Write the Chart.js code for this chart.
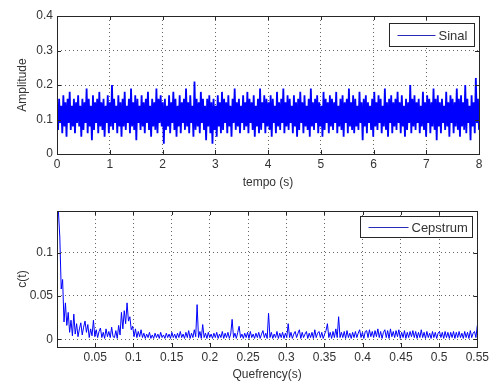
<!DOCTYPE html>
<html>
<head>
<meta charset="utf-8">
<script src="https://cdn.jsdelivr.net/npm/chart.js@4"></script>
<style>
  html, body { margin: 0; padding: 0; background: #fff; }
  #wrap { position: relative; width: 492px; height: 383px; }
  #wrap canvas { position: absolute; left: 0; }
</style>
</head>
<body>
<div id="wrap">
  <canvas id="sinalChart" width="492" height="191" style="top:0"></canvas>
  <canvas id="cepstrumChart" width="492" height="192" style="top:191px"></canvas>
</div>
<script>
// sinal no tempo (lido a olho da figura), 0 a 8 s
const sinal = [
  0.15,0.07,0.16,0.09,0.14,0.06,0.17,0.08,0.15,0.05,0.16,0.09,0.18,0.07,0.14,0.08,0.16,0.06,0.15,0.09,
  0.17,0.08,0.14,0.05,0.16,0.07,0.15,0.09,0.19,0.06,0.16,0.08,0.14,0.04,0.17,0.07,0.15,0.09,0.16,0.06,
  0.18,0.08,0.15,0.07,0.16,0.05,0.14,0.09,0.17,0.06,0.15,0.08,0.20,0.07,0.16,0.09,0.14,0.06,0.17,0.08,
  0.15,0.05,0.16,0.08,0.18,0.07,0.14,0.09,0.16,0.06,0.19,0.08,0.15,0.07,0.17,0.04,0.16,0.09,0.14,0.07,
  0.17,0.08,0.15,0.06,0.16,0.09,0.18,0.07,0.14,0.05,0.16,0.08,0.15,0.07,0.19,0.06,0.16,0.09,0.17,0.08,
  0.15,0.03,0.16,0.07,0.14,0.08,0.17,0.06,0.15,0.09,0.18,0.07,0.16,0.05,0.14,0.08,0.17,0.06,0.15,0.09,
  0.16,0.07,0.19,0.08,0.15,0.06,0.17,0.09,0.14,0.05,0.21,0.07,0.16,0.08,0.15,0.06,0.18,0.09,0.16,0.07,
  0.14,0.04,0.16,0.08,0.17,0.06,0.15,0.03,0.16,0.07,0.14,0.05,0.17,0.08,0.15,0.06,0.18,0.07,0.16,0.09,
  0.15,0.06,0.17,0.08,0.14,0.05,0.16,0.09,0.19,0.07,0.15,0.08,0.16,0.06,0.14,0.09,0.17,0.07,0.15,0.08,
  0.18,0.06,0.16,0.09,0.15,0.07,0.17,0.05,0.14,0.08,0.16,0.06,0.19,0.07,0.15,0.09,0.17,0.06,0.16,0.08,
  0.15,0.07,0.17,0.05,0.16,0.09,0.14,0.06,0.18,0.08,0.15,0.07,0.16,0.09,0.19,0.06,0.15,0.08,0.17,0.07,
  0.16,0.09,0.14,0.06,0.17,0.08,0.15,0.05,0.16,0.07,0.18,0.09,0.15,0.06,0.17,0.08,0.14,0.07,0.16,0.05,
  0.19,0.08,0.15,0.07,0.16,0.09,0.17,0.06,0.15,0.08,0.14,0.05,0.18,0.07,0.16,0.09,0.15,0.06,0.17,0.08,
  0.16,0.07,0.15,0.09,0.18,0.06,0.14,0.08,0.16,0.07,0.17,0.05,0.15,0.09,0.16,0.06,0.19,0.08,0.15,0.07,
  0.17,0.06,0.16,0.08,0.14,0.07,0.18,0.09,0.15,0.04,0.16,0.08,0.17,0.06,0.15,0.09,0.14,0.07,0.16,0.05,
  0.18,0.08,0.15,0.07,0.17,0.09,0.16,0.06,0.14,0.08,0.19,0.07,0.15,0.05,0.16,0.09,0.17,0.06,0.15,0.08,
  0.16,0.07,0.18,0.09,0.15,0.06,0.17,0.08,0.14,0.05,0.16,0.07,0.15,0.09,0.20,0.06,0.16,0.08,0.17,0.07,
  0.15,0.09,0.16,0.06,0.14,0.08,0.18,0.07,0.15,0.05,0.17,0.09,0.16,0.06,0.15,0.08,0.19,0.07,0.16,0.04,
  0.17,0.08,0.15,0.06,0.16,0.09,0.14,0.07,0.18,0.08,0.15,0.05,0.17,0.09,0.16,0.06,0.15,0.08,0.19,0.07,
  0.16,0.05,0.17,0.08,0.15,0.07,0.20,0.06,0.16,0.09,0.14,0.04,0.17,0.08,0.15,0.06,0.22,0.09,0.16,0.07
];
const sinalDuration = 8;

// cepstrum (quefrency de ~0.0018 a 0.55 s)
const cepstrum = [
  0.148,0.118,0.058,0.069,0.020,0.042,0.016,0.031,0.008,0.022,0.004,0.029,0.006,0.018,0.003,0.012,0.019,0.005,0.014,0.021,
  0.008,0.017,0.002,0.012,0.004,0.022,0.003,0.011,0.002,0.009,0.013,0.002,0.008,0.001,0.012,0.003,0.009,0.002,0.014,0.003,
  0.002,0.010,0.001,0.016,0.005,0.031,0.012,0.033,0.018,0.042,0.021,0.026,0.011,0.015,0.003,0.012,0.002,0.009,0.003,0.011,
  0.002,0.007,0.001,0.006,0.002,0.008,0.001,0.005,0.001,0.007,0.002,0.006,0.001,0.008,0.002,0.005,0.001,0.007,0.002,0.006,
  0.001,0.008,0.002,0.006,0.001,0.007,0.002,0.009,0.002,0.006,0.001,0.008,0.002,0.010,0.001,0.007,0.002,0.011,0.003,0.040,
  0.002,0.009,0.001,0.017,0.002,0.007,0.001,0.008,0.002,0.006,0.001,0.007,0.002,0.008,0.001,0.006,0.002,0.009,0.001,0.007,
  0.002,0.008,0.001,0.006,0.023,0.002,0.007,0.001,0.008,0.015,0.002,0.006,0.001,0.007,0.002,0.008,0.001,0.009,0.002,0.006,
  0.001,0.007,0.002,0.008,0.001,0.006,0.010,0.002,0.007,0.001,0.030,0.002,0.008,0.001,0.006,0.002,0.009,0.001,0.007,0.002,
  0.008,0.001,0.007,0.002,0.018,0.002,0.008,0.001,0.006,0.009,0.002,0.007,0.011,0.001,0.008,0.002,0.006,0.009,0.001,0.007,
  0.002,0.008,0.001,0.011,0.002,0.007,0.009,0.002,0.008,0.001,0.006,0.010,0.018,0.002,0.008,0.001,0.009,0.002,0.012,0.002,
  0.026,0.002,0.008,0.002,0.009,0.001,0.010,0.002,0.007,0.001,0.008,0.002,0.009,0.002,0.007,0.011,0.002,0.008,0.001,0.009,
  0.010,0.002,0.011,0.003,0.009,0.002,0.010,0.003,0.012,0.002,0.009,0.001,0.008,0.011,0.002,0.010,0.001,0.012,0.003,0.009,
  0.002,0.010,0.003,0.011,0.001,0.008,0.002,0.010,0.001,0.008,0.002,0.009,0.003,0.010,0.002,0.009,0.001,0.008,0.002,0.011,
  0.002,0.008,0.001,0.009,0.002,0.007,0.001,0.009,0.002,0.008,0.001,0.007,0.009,0.002,0.008,0.001,0.009,0.002,0.008,0.001,
  0.008,0.002,0.009,0.001,0.008,0.002,0.009,0.002,0.007,0.001,0.009,0.002,0.008,0.001,0.010,0.002,0.007,0.009,0.002,0.016
];
const quefrencyMax = 0.55;

// marcas dos eixos
const sinalXTicks = [0, 1, 2, 3, 4, 5, 6, 7, 8];
const sinalYTicks = [0, 0.1, 0.2, 0.3, 0.4];
const cepsXTicks = [0.05, 0.1, 0.15, 0.2, 0.25, 0.3, 0.35, 0.4, 0.45, 0.5, 0.55];
const cepsYTicks = [0, 0.05, 0.1];

const FONT = '"Liberation Sans", Arial, sans-serif';
const TXT = '#333';
const LINE = '#0000ff';

const dtSinal = sinalDuration / (sinal.length - 1);
const sinalPts = sinal.map((v, i) => ({ x: i * dtSinal, y: v }));
const dq = quefrencyMax / cepstrum.length;
const cepsPts = cepstrum.map((v, i) => ({ x: (i + 1) * dq, y: v }));

// caixa estilo matlab + ticks para dentro + legenda
const matlabBox = {
  id: 'matlabBox',
  afterDatasetsDraw(chart, args, opts) {
    const ctx = chart.ctx, a = chart.chartArea;
    const xs = chart.scales.x, ys = chart.scales.y;
    ctx.save();
    ctx.strokeStyle = '#262626';
    ctx.lineWidth = 1;
    ctx.strokeRect(Math.round(a.left) + 0.5, Math.round(a.top) + 0.5,
      Math.round(a.right - a.left), Math.round(a.bottom - a.top));
    ctx.beginPath();
    xs.ticks.forEach(t => {
      const px = Math.round(xs.getPixelForValue(t.value)) + 0.5;
      ctx.moveTo(px, a.bottom); ctx.lineTo(px, a.bottom - 4);
      ctx.moveTo(px, a.top); ctx.lineTo(px, a.top + 4);
    });
    ys.ticks.forEach(t => {
      const py = Math.round(ys.getPixelForValue(t.value)) + 0.5;
      ctx.moveTo(a.left, py); ctx.lineTo(a.left + 4, py);
      ctx.moveTo(a.right, py); ctx.lineTo(a.right - 4, py);
    });
    ctx.stroke();

    // legenda
    const ds = chart.data.datasets[0];
    const bx = Math.round(a.right - 5 - opts.w) + 0.5, by = Math.round(a.top + opts.dy) + 0.5;
    ctx.fillStyle = '#fff';
    ctx.fillRect(bx, by, opts.w, opts.h);
    ctx.strokeStyle = '#262626';
    ctx.strokeRect(bx, by, opts.w, opts.h);
    const my = Math.round(by + opts.h / 2) + 0.5;
    ctx.strokeStyle = '#2a2ab8';
    ctx.beginPath();
    ctx.moveTo(bx + 8, my); ctx.lineTo(bx + 8 + opts.lw, my);
    ctx.stroke();
    ctx.fillStyle = TXT;
    ctx.font = '13px ' + FONT;
    ctx.textBaseline = 'middle';
    ctx.textAlign = 'left';
    ctx.fillText(ds.label, bx + 11 + opts.lw, my + 1);
    ctx.restore();
  }
};

function makeChart(id, label, pts, lineW, xr, yr, xt, yt, xTitle, yTitle, padTop, xH, legend) {
  return new Chart(document.getElementById(id), {
    type: 'line',
    data: {
      datasets: [{
        label: label,
        data: pts,
        borderColor: LINE,
        borderWidth: lineW,
        pointRadius: 0,
        tension: 0,
        fill: false
      }]
    },
    options: {
      responsive: false,
      animation: false,
      events: [],
      layout: { padding: { top: padTop, right: 13, left: 0, bottom: 0 } },
      plugins: { legend: { display: false }, tooltip: { enabled: false }, matlabBox: legend },
      scales: {
        x: {
          type: 'linear', min: xr[0], max: xr[1],
          afterFit: s => { s.height = xH; },
          afterBuildTicks: s => { s.ticks = xt.map(v => ({ value: v })); },
          grid: { color: 'rgba(0,0,0,0.6)', lineWidth: 1, drawTicks: false },
          border: { display: false, dash: [1, 3] },
          ticks: { padding: 3, maxRotation: 0, autoSkip: false, color: TXT, font: { family: FONT, size: 12 },
                   callback: v => String(v) },
          title: { display: true, text: xTitle, color: TXT, font: { family: FONT, size: 12 }, padding: { top: 0, bottom: 1 } }
        },
        y: {
          type: 'linear', min: yr[0], max: yr[1],
          afterFit: s => { s.width = 57; },
          afterBuildTicks: s => { s.ticks = yt.map(v => ({ value: v })); },
          grid: { color: 'rgba(0,0,0,0.6)', lineWidth: 1, drawTicks: false },
          border: { display: false, dash: [1, 3] },
          ticks: { padding: 4, color: TXT, font: { family: FONT, size: 12 }, callback: v => String(v) },
          title: { display: true, text: yTitle, color: TXT, font: { family: FONT, size: 12 }, padding: { top: 15, bottom: 0 } }
        }
      }
    },
    plugins: [matlabBox]
  });
}

makeChart('sinalChart', 'Sinal', sinalPts, 1.8, [0, 8], [0, 0.4], sinalXTicks, sinalYTicks,
  'tempo (s)', 'Amplitude', 16, 37, { w: 85, h: 23, dy: 7, lw: 38 });
makeChart('cepstrumChart', 'Cepstrum', cepsPts, 1, [0, 0.55], [-0.0089, 0.148], cepsXTicks, cepsYTicks,
  'Quefrency(s)', 'c(t)', 20, 36, { w: 112, h: 21, dy: 5, lw: 40 });
</script>
</body>
</html>
